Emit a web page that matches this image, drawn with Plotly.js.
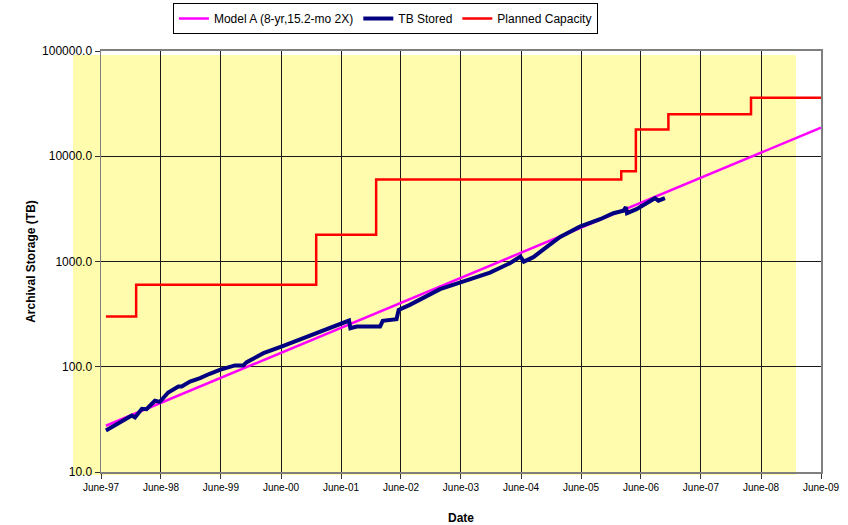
<!DOCTYPE html>
<html>
<head>
<meta charset="utf-8">
<script src="https://cdn.plot.ly/plotly-3.0.1.min.js"></script>
<style>
  html, body { margin: 0; padding: 0; background: #fff; }
  #chart { width: 848px; height: 525px; }
</style>
</head>
<body>
<div id="chart"></div>
<script>
// ---- Data ----
const modelDates = ["1997-07-01", "2009-06-01"];
const modelValues = [27.5, 18700];

const storedDates = [
  "1997-07-01","1997-12-05","1997-12-25","1998-02-05","1998-03-05","1998-04-25","1998-05-25",
  "1998-07-15","1998-09-15","1998-10-05","1998-11-25","1999-01-25","1999-03-25","1999-05-25",
  "1999-08-25","1999-10-15","1999-11-05","2000-01-25","2000-02-15","2000-06-15","2000-09-25",
  "2000-11-25","2001-03-05","2001-05-25","2001-07-20","2001-07-28","2001-09-05","2002-01-25",
  "2002-02-10","2002-05-05","2002-05-18","2002-07-25","2002-09-25","2003-01-25","2003-05-25",
  "2003-11-25","2004-03-25","2004-05-28","2004-06-18","2004-08-15","2004-11-05","2005-01-25",
  "2005-05-25","2005-09-25","2005-12-15","2006-02-15","2006-03-01","2006-03-08","2006-05-05",
  "2006-07-05","2006-08-25","2006-09-15","2006-10-25"
];
const storedValues = [
  24.8, 34.4, 33.0, 39.8, 39.5, 47.5, 46.4,
  56.9, 64.9, 64.9, 72.3, 77.9, 85.7, 93.5,
  103, 103, 110.6, 129.7, 134.6, 158, 182.8,
  196.5, 227.6, 255.5, 274.7, 232.6, 241, 241,
  272.9, 283, 346.9, 387, 431.8, 545.8, 631,
  785, 963, 1113, 997, 1099, 1376, 1713,
  2145, 2520, 2876, 3043, 3280, 2876, 3139,
  3578, 3992, 3784, 3992
];

const capacityDates = ["1997-07-01","1998-01-01","2001-01-01","2002-01-01","2006-02-01",
                       "2006-05-01","2006-11-15","2008-04-01","2009-06-01"];
const capacityValues = [300, 600, 1800, 6000, 7200, 18000, 25000, 36000, 36000];

const xTickVals = ["1997-06-01","1998-06-01","1999-06-01","2000-06-01","2001-06-01","2002-06-01",
                   "2003-06-01","2004-06-01","2005-06-01","2006-06-01","2007-06-01","2008-06-01","2009-06-01"];
const xTickText = ["June-97","June-98","June-99","June-00","June-01","June-02",
                   "June-03","June-04","June-05","June-06","June-07","June-08","June-09"];
const yTickVals = [10, 100, 1000, 10000, 100000];
const yTickText = ["10.0", "100.0", "1000.0", "10000.0", "100000.0"];

const FONT = "Liberation Sans, Arial, sans-serif";

const traces = [
  {
    x: modelDates, y: modelValues, name: "Model A (8-yr,15.2-mo 2X)",
    type: "scatter", mode: "lines",
    line: { color: "#FF00FF", width: 2.5 }
  },
  {
    x: storedDates, y: storedValues, name: "TB Stored",
    type: "scatter", mode: "lines",
    line: { color: "#000080", width: 4 }
  },
  {
    x: capacityDates, y: capacityValues, name: "Planned Capacity",
    type: "scatter", mode: "lines",
    line: { color: "#FF0000", width: 2.5, shape: "hv" }
  }
];

const layout = {
  width: 848, height: 525,
  margin: { l: 101, r: 27, t: 51, b: 53, autoexpand: false },
  paper_bgcolor: "#ffffff",
  plot_bgcolor: "rgba(0,0,0,0)",
  font: { family: FONT, color: "#000", size: 12 },
  showlegend: true,
  legend: {
    orientation: "h",
    x: 0.395, xanchor: "center",
    y: 1.114, yanchor: "top",
    bgcolor: "#ffffff", bordercolor: "#000000", borderwidth: 1,
    font: { family: FONT, size: 12, color: "#000" },
    tracegroupgap: 0, itemwidth: 30
  },
  xaxis: {
    type: "date",
    range: ["1997-06-01", "2009-06-01"],
    tickmode: "array", tickvals: xTickVals, ticktext: xTickText,
    tickfont: { family: FONT, size: 10, color: "#000" },
    ticks: "outside", ticklen: 5, tickcolor: "#333", tickwidth: 1,
    showgrid: true, gridcolor: "#1a1a1a", gridwidth: 1,
    showline: true, linecolor: "#7f7f7f", linewidth: 2, mirror: true,
    zeroline: false,
    title: { text: "Date", font: { family: FONT, size: 12, color: "#000", weight: "bold" }, standoff: 24 }
  },
  yaxis: {
    type: "log",
    range: [1, 5],
    tickmode: "array", tickvals: yTickVals, ticktext: yTickText,
    tickfont: { family: FONT, size: 12, color: "#000" },
    ticks: "outside", ticklen: 5, tickcolor: "#333", tickwidth: 1,
    showgrid: true, gridcolor: "#1a1a1a", gridwidth: 1,
    showline: true, linecolor: "#7f7f7f", linewidth: 1.5, mirror: true,
    zeroline: false,
    title: { text: "Archival Storage (TB)", font: { family: FONT, size: 12, color: "#000", weight: "bold" }, standoff: 4 }
  },
  shapes: [
    {
      type: "rect", xref: "paper", yref: "paper", layer: "below",
      x0: -0.0389, x1: 0.9653, y0: -0.0071, y1: 0.9905,
      fillcolor: "#FFFCAE", line: { width: 0 }
    }
  ]
};

Plotly.newPlot("chart", traces, layout, { displayModeBar: false, staticPlot: true });
</script>
</body>
</html>
